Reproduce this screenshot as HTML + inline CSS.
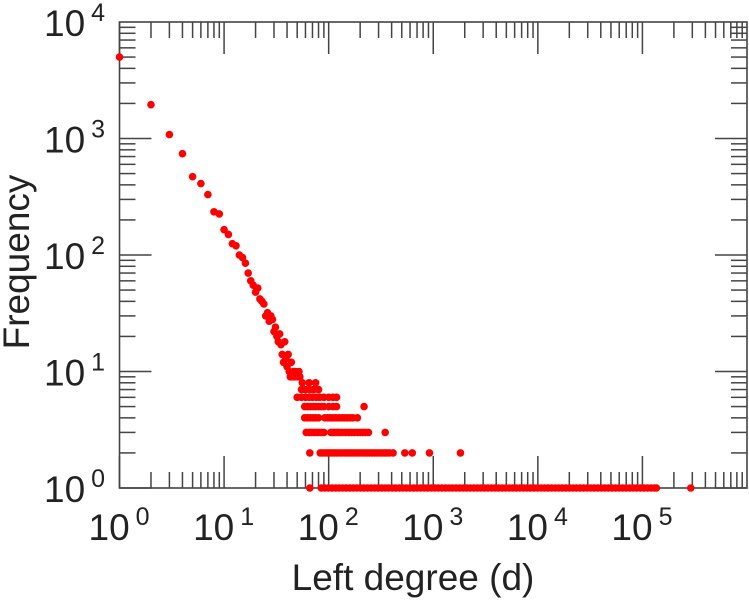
<!DOCTYPE html>
<html><head><meta charset="utf-8"><style>
html,body{margin:0;padding:0;background:#fff;}
svg{display:block;font-family:"Liberation Sans",sans-serif;}
</style></head><body>
<svg id="chart" width="749" height="600"></svg>
<script>
const headDegrees=[1,2,3,4,5,6,7,8,9,10,11,12,13,14,15,16,17,18,19,20,21,22,23,24,25,26,27,28,29,30,31,32,33,34,35,36,37,38,39,40,41,42,43,44,45,46,47,48,50,52,53];
const headFreqs=[5000,1950,1080,740,470,410,330,235,225,165,150,125,120,100,95,85,70,60,55,48,52,42,40,38,30,32,27,30,28,22,24,20,18,21,17,14,12,18,13,11,14,10,9,12,9,10,9,10,9,10,9];
const row8Degrees=[56,65,75];
const row7Degrees=[55,60,66,72,80];
const row6Degrees=[50,55,60,65,70,76,82,90,100,110,119];
const row5Degrees=[59,63,67,71,75,80,85,90,100,110,119,218];
const row4Degrees=[59,63,67,71,75,80,92,98,104,110,117,125,133,141,150,160,170,188];
const row3Degrees=[61,65,68,72,76,80,85,90,105,110,116,122,128,135,145,155,165,176,188,200,212,225,240,347];
const row2Degrees=[66,83,87,92,97,102,108,114,120,127,134,142,150,158,167,176,186,197,208,220,232,245,259,274,290,306,324,342,361,382,413,535,630,920,1820];
const row1Degrees=[66,85,92,100,108,117,126,136,147,159,172,186,201,217,235,254,275,297,321,347,375,405,438,474,512,554,599,648,700,757,819,885,957,1035,1119,1210,1308,1414,1529,1653,1787,1932,2089,2258,2441,2640,2854,3085,3336,3606,3899,4215,4557,4927,5327,5759,6226,6731,7277,7868,8506,9196,9942,10750,11620,12560,13580,14680,15870,17160,18550,20060,21690,23450,25350,27400,29630,32030,34630,37440,40480,43760,47310,51150,55300,59790,64640,69880,75550,81680,88310,95470,103200,111600,120700,130500,136000,290000];
const rowFreqs=[8,7,6,5,4,3,2,1];
const xTickExps=[0,1,2,3,4,5];
const yTickExps=[0,1,2,3,4];

const NS="http://www.w3.org/2000/svg";
const svg=document.getElementById('chart');
const L=119.5,R=747,T=22,B=488;
const xMin=0,xMax=6,yMin=0,yMax=4;
function xs(d){return L+(Math.log10(d)-xMin)/(xMax-xMin)*(R-L);}
function ys(f){return B-(Math.log10(f)-yMin)/(yMax-yMin)*(B-T);}
function mk(tag,attrs){const e=document.createElementNS(NS,tag);for(const k in attrs)e.setAttribute(k,attrs[k]);svg.appendChild(e);return e;}

const tickColor="#444";
for(let e=xMin;e<xMax;e++){
  for(let m=1;m<=9;m++){
    const x=xs(m*Math.pow(10,e));
    const len=(m===1)?32:16;
    const t1=mk('line',{x1:x,y1:B,x2:x,y2:B-len,stroke:tickColor,'stroke-width':1.5});
    
    
    const t2=mk('line',{x1:x,y1:T,x2:x,y2:T+len,stroke:tickColor,'stroke-width':1.5});
    
    
  }
}
for(let e=yMin;e<yMax;e++){
  for(let m=1;m<=9;m++){
    const y=ys(m*Math.pow(10,e));
    const len=(m===1)?32:16;
    const t1=mk('line',{x1:L,y1:y,x2:L+len,y2:y,stroke:tickColor,'stroke-width':1.5});
    
    
    const t2=mk('line',{x1:R,y1:y,x2:R-len,y2:y,stroke:tickColor,'stroke-width':1.5});
    
    
  }
}
const frame=mk('rect',{x:L,y:T,width:R-L,height:B-T,fill:'none',stroke:'#444','stroke-width':1.6});



xTickExps.forEach(e=>{
  const x=xs(Math.pow(10,e));
  const t=mk('text',{x:x-31,y:540,'font-size':37,fill:'#222'});
  
  
  t.innerHTML='10<tspan dx="6" dy="-15" font-size="25">'+e+'</tspan>';
});
yTickExps.forEach(e=>{
  const y=ys(Math.pow(10,e));
  const t=mk('text',{x:44,y:y+14,'font-size':37,fill:'#222'});
  
  
  t.innerHTML='10<tspan dx="6" dy="-15" font-size="25">'+e+'</tspan>';
});

const g=mk('g',{fill:'#ff0000'});


function dot(d,f){
  const c=document.createElementNS(NS,'circle');
  c.setAttribute('cx',xs(d));c.setAttribute('cy',ys(f));c.setAttribute('r',3.8);
  
  
  g.appendChild(c);
}
headDegrees.forEach((d,i)=>dot(d,headFreqs[i]));
[row8Degrees,row7Degrees,row6Degrees,row5Degrees,row4Degrees,row3Degrees,row2Degrees,row1Degrees].forEach((arr,i)=>{
  arr.forEach(d=>dot(d,rowFreqs[i]));
});

const xt=mk('text',{x:413,y:590,'text-anchor':'middle','font-size':37,fill:'#222'});


xt.textContent='Left degree (d)';
const yt=mk('text',{x:0,y:0,'text-anchor':'middle','font-size':37,fill:'#222',transform:'translate(29,262) rotate(-90)'});


yt.textContent='Frequency';
</script>
</body></html>
